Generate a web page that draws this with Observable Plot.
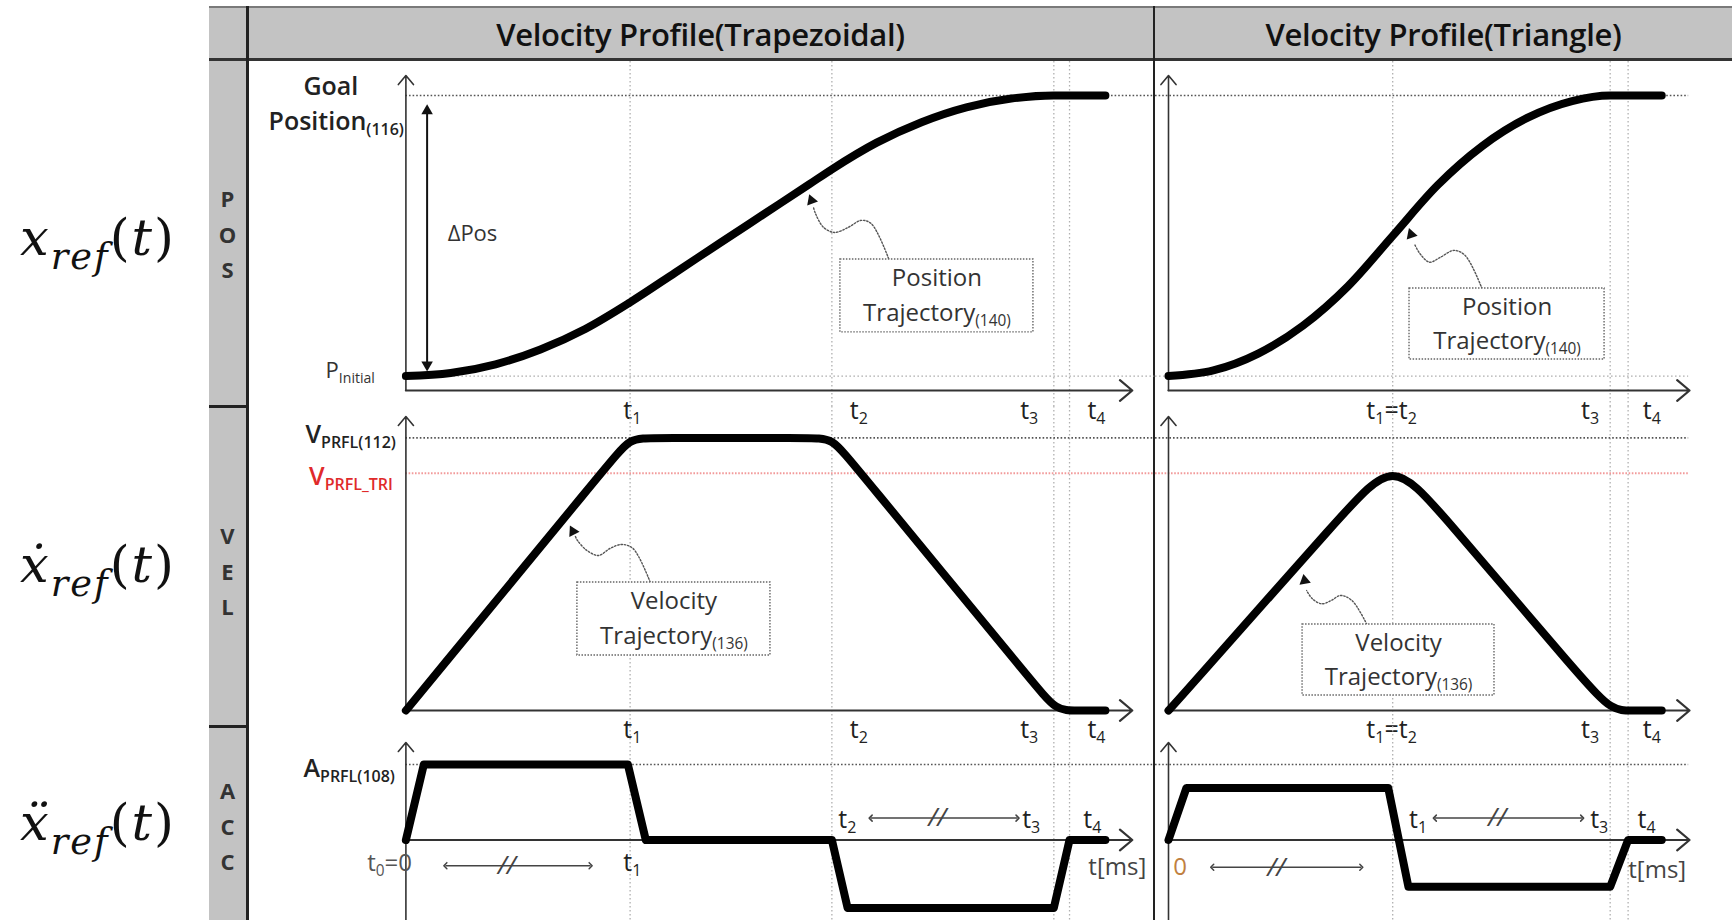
<!DOCTYPE html>
<html>
<head>
<meta charset="utf-8">
<script src="https://cdn.jsdelivr.net/npm/d3@7"></script>
<script src="https://cdn.jsdelivr.net/npm/@observablehq/plot@0.6"></script>
<style>
  body { margin: 0; background: #fff; }
  #page { position: relative; width: 1732px; height: 920px; overflow: hidden; background: #fff; font-family: "Open Sans", sans-serif; }
  .box { position: absolute; }
  .hdr { position: absolute; top: 8px; height: 51px; display: flex; align-items: center; justify-content: center;
         font-family: "Open Sans", sans-serif; font-weight: 600; font-size: 31px; color: #111; letter-spacing: -0.3px; }
  .letters { position: absolute; left: 209px; width: 37px; text-align: center; font-family: "Open Sans", sans-serif;
             font-weight: 700; font-size: 22px; line-height: 35.5px; color: #333; transform: translateY(-50%); }
  .math { position: absolute; left: 20px; transform: translateY(-50%); font-family: "DejaVu Serif", serif;
          font-style: italic; font-size: 51px; color: #111; white-space: nowrap; letter-spacing: 2px; }
  .math sub { font-size: 72%; vertical-align: -0.38em; }
  .math .up { font-style: normal; }
  svg.panel { position: absolute; overflow: visible; }
</style>
</head>
<body>
<div id="page"></div>
<script>
// ================= DATA =================
const columnTitles = ["Velocity Profile(Trapezoidal)", "Velocity Profile(Triangle)"];
const rowLetters = ["POS", "VEL", "ACC"];
const rowSymbols = ["x", "ẋ", "ẍ"];

// time marks (ms, arbitrary units)
const trapTickT = [100, 190, 289, 296];
const triTickT = [100, 197, 205];
const trapTickLabels = ["t_{1}", "t_{2}", "t_{3}", "t_{4}"];
const trapTickLabelT = [101, 202, 278, 308];
const triTickLabels = ["t_{1}=t_{2}", "t_{3}", "t_{4}"];
const triTickLabelT = [99.5, 188, 215.6];

// position (fraction of ΔPos)
const trapPosT = [0, 20, 40, 60, 80, 100, 120, 140, 160, 180, 190, 210, 230, 250, 270, 289, 312];
const trapPosV = [0, 0.011, 0.042, 0.095, 0.168, 0.263, 0.368, 0.474, 0.579, 0.684, 0.737, 0.832, 0.905, 0.958, 0.989, 1, 1];
const triPosT = [0, 20, 40, 60, 80, 100, 120, 140, 160, 180, 197, 220];
const triPosV = [0, 0.02, 0.08, 0.18, 0.32, 0.5, 0.68, 0.82, 0.92, 0.98, 1, 1];

// velocity (fraction of V_PRFL)
const trapVelT = [0, 4, 91, 100, 109, 181, 190, 199, 281, 290, 299, 312];
const trapVelV = [0, 0.04, 0.91, 1, 1, 1, 1, 0.91, 0.09, 0, 0, 0];
const triVelT = [0, 4, 80, 100, 120, 186, 198, 206, 220];
const triVelV = [0, 0.035, 0.742, 0.92, 0.742, 0.1, 0, 0, 0];
const vPrflTri = [0.87];

// acceleration (fraction of A_PRFL)
const trapAccT = [0, 8, 99, 107, 190, 197, 289, 296, 312];
const trapAccV = [0, 1, 1, 0, 0, -0.9, -0.9, 0, 0];
const triAccT = [0, 8, 98, 107, 197, 205, 220];
const triAccV = [0, 0.69, 0.69, -0.62, -0.62, 0, 0];

// callouts: box [t1, t2, v1, v2], text lines, leader path, arrow head
const trapPosBox = [193.8, 279.9, 0.156, 0.4155];
const trapPosText = ["Position", "Trajectory_{(140)}"];
const trapPosLeaderT = [215.3, 207.6, 203.1, 197.3, 191.2, 186.3, 182.7, 181.8];
const trapPosLeaderV = [0.419, 0.543, 0.555, 0.530, 0.512, 0.530, 0.579, 0.601];
const trapPosHead = [180.9, 0.626, -20];

const trapVelBox = [76.5, 162.6, 0.2018, 0.4696];
const trapVelText = ["Velocity", "Trajectory_{(136)}"];
const trapVelLeaderT = [108.96, 101.29, 96.16, 91.03, 85.9, 80.77, 76.53, 75.6];
const trapVelLeaderV = [0.4706, 0.5943, 0.6090, 0.5943, 0.5686, 0.5869, 0.6236, 0.6383];
const trapVelHead = [74.5, 0.6566, -27];

const triPosBox = [107.5, 194.5, 0.059, 0.312];
const triPosText = ["Position", "Trajectory_{(140)}"];
const triPosLeaderT = [139.9, 132.3, 127.3, 121.4, 116.4, 112.2, 109.7];
const triPosLeaderV = [0.311, 0.430, 0.448, 0.424, 0.406, 0.436, 0.471];
const triPosHead = [108.2, 0.505, -19];

const triVelBox = [59.8, 145.4, 0.055, 0.3155];
const triVelText = ["Velocity", "Trajectory_{(136)}"];
const triVelLeaderT = [88.5, 81.8, 76.7, 72.6, 68.4, 64.2, 61.6];
const triVelLeaderV = [0.3155, 0.4035, 0.4219, 0.4035, 0.3914, 0.4097, 0.4402];
const triVelHead = [60.7, 0.477, -10];

// ================= LAYOUT =================
const page = document.getElementById("page");
const K = 2.242; // px per time unit
const trapX = {left: 248, width: 906, domain: [0, 330], range: [157.4, 157.4 + 330 * K], right: 334, axisEnd: 324};
const triX = {left: 1155, width: 577, domain: [0, 240], range: [13, 13 + 240 * K], right: 232, start: -5.8, axisEnd: 232.4};
const rowY = {
  pos: {top: 61, height: 345, range: [314.6, 34]},
  vel: {top: 406, height: 320, range: [304, 31.4]},
  acc: {top: 726, height: 194, range: [113.5, 38]}
};

function addDiv(style, html = "", cls = "box") {
  const d = document.createElement("div");
  d.className = cls;
  Object.assign(d.style, style);
  d.innerHTML = html;
  page.appendChild(d);
  return d;
}

// table frame
addDiv({left: "209px", top: "8px", width: "1523px", height: "51px", background: "#c3c3c3"});
addDiv({left: "209px", top: "8px", width: "37px", height: "912px", background: "#c3c3c3"});
addDiv({left: "209px", top: "6px", width: "1523px", height: "2px", background: "#7a7a7a"});
addDiv({left: "209px", top: "58px", width: "1523px", height: "3px", background: "#333"});
addDiv({left: "246px", top: "6px", width: "2.5px", height: "914px", background: "#222"});
addDiv({left: "1153px", top: "6px", width: "2px", height: "914px", background: "#222"});
addDiv({left: "209px", top: "405px", width: "38px", height: "2.5px", background: "#222"});
addDiv({left: "209px", top: "725px", width: "38px", height: "2.5px", background: "#222"});

addDiv({left: "248px", width: "905px"}, columnTitles[0], "hdr");
addDiv({left: "1155px", width: "577px"}, columnTitles[1], "hdr");

const letterCenters = [234, 571, 826];
rowLetters.forEach((w, i) => addDiv({top: letterCenters[i] + "px"}, w.split("").join("<br>"), "letters"));

const mathCenters = [243, 570, 828];
rowSymbols.forEach((s, i) => addDiv({top: mathCenters[i] + "px"},
  `${s}<sub>ref</sub><span class="up">(</span>t<span class="up">)</span>`, "math"));

// ================= PLOT HELPERS =================
const NS = "http://www.w3.org/2000/svg";
function fixSubs(svg) {
  svg.querySelectorAll("text").forEach(el => {
    const targets = el.querySelector("tspan") ? Array.from(el.querySelectorAll("tspan")) : [el];
    targets.forEach(t => {
      const s = t.textContent;
      if (!s.includes("_{")) return;
      t.textContent = "";
      s.split(/(_\{[^}]*\})/).forEach(p => {
        if (!p) return;
        const ts = document.createElementNS(NS, "tspan");
        if (p.startsWith("_{")) {
          ts.textContent = p.slice(2, -1);
          ts.style.fontSize = "64%";
          ts.setAttribute("baseline-shift", "-0.32em");
        } else ts.textContent = p;
        t.appendChild(ts);
      });
    });
  });
}

function panel(col, row, marks) {
  const svg = Plot.plot({
    width: col.width, height: row.height,
    marginTop: 0, marginRight: 0, marginBottom: 0, marginLeft: 0,
    x: {domain: col.domain, range: col.range, axis: null},
    y: {domain: [0, 1], range: row.range, axis: null},
    style: {overflow: "visible", background: "transparent", fontFamily: "Open Sans, sans-serif"},
    marks
  });
  fixSubs(svg);
  svg.classList.add("panel");
  svg.style.left = col.left + "px";
  svg.style.top = row.top + "px";
  page.appendChild(svg);
}

const thick = {stroke: "#000", strokeWidth: 8, strokeLinecap: "round", strokeLinejoin: "round"};
const darkDots = {stroke: "#555", strokeWidth: 1.6, strokeDasharray: "1.6,2"};
const lightDots = {stroke: "#b0b0b0", strokeWidth: 1.3, strokeDasharray: "1.6,2.4"};
const axisStyle = {stroke: "#333", strokeWidth: 1.6, headLength: 11, headAngle: 80};
const tickText = {fontSize: 25, fill: "#222"};

function yAxis(y1, y2) { return Plot.arrow([0], {x1: 0, x2: 0, y1, y2, ...axisStyle}); }
function xAxis(y, end) { return Plot.arrow([0], {x1: 0, x2: end, y1: y, y2: y, ...axisStyle, strokeWidth: 2.2}); }

function callout(box, text, leaderT, leaderV, head) {
  const cx = (box[0] + box[1]) / 2, h = box[3] - box[2];
  return [
    Plot.line(leaderT, {x: leaderT, y: leaderV, curve: "catmull-rom", stroke: "#555", strokeWidth: 1.4, strokeDasharray: "1.5,1.8"}),
    Plot.dot([head], {x: d => d[0], y: d => d[1], rotate: d => d[2], symbol: "triangle2", r: 5.5, fill: "#111", stroke: "none"}),
    Plot.rect([box], {x1: d => d[0], x2: d => d[1], y1: d => d[2], y2: d => d[3], fill: "white", stroke: "#666", strokeWidth: 1.4, strokeDasharray: "1.5,1.5"}),
    Plot.text([text[0]], {x: cx, y: box[3] - h * 0.26, text: d => d, fontSize: 24, fill: "#333"}),
    Plot.text([text[1]], {x: cx, y: box[2] + h * 0.26, text: d => d, fontSize: 24, fill: "#333"})
  ];
}

function doubleArrow(t1, t2, v, mid, fill = "#444") {
  return [
    Plot.link([0], {x1: t1, x2: t2, y1: v, y2: v, stroke: "#444", strokeWidth: 1.5, markerStart: "arrow-reverse", markerEnd: "arrow"}),
    Plot.text(["//"], {x: mid, y: v, text: d => d, fontSize: 26, fill, fontStyle: "italic"})
  ];
}

// ================= TRAPEZOIDAL COLUMN =================
panel(trapX, rowY.pos, [
  Plot.ruleX(trapTickT, lightDots),
  Plot.ruleY([0], {x1: 0, x2: trapX.right, ...lightDots}),
  Plot.ruleY([1], {x1: 0, x2: trapX.right, ...darkDots}),
  yAxis(-0.0513, 1.071),
  xAxis(-0.0513, trapX.axisEnd),
  Plot.ruleX([9.46], {y1: 0.03, y2: 0.95, stroke: "#111", strokeWidth: 2}),
  Plot.dot([[9.46, 0.945, 0], [9.46, 0.04, 180]], {x: d => d[0], y: d => d[1], rotate: d => d[2], symbol: "triangle2", r: 5.5, fill: "#111", stroke: "none"}),
  Plot.text(["ΔPos"], {x: 29.7, y: 0.508, text: d => d, fontSize: 22, fill: "#333"}),
  Plot.text(["Goal"], {x: 0, dx: -75, y: 1.032, text: d => d, fontSize: 25, fontWeight: 600, fill: "#222"}),
  Plot.text(["Position_{(116)}"], {x: 0, dx: -2, y: 0.905, text: d => d, textAnchor: "end", fontSize: 25, fontWeight: 600, fill: "#222"}),
  Plot.text(["P_{Initial}"], {x: 0, dx: -31, y: 0.018, text: d => d, textAnchor: "end", fontSize: 22, fill: "#333"}),
  ...callout(trapPosBox, trapPosText, trapPosLeaderT, trapPosLeaderV, trapPosHead),
  Plot.line(trapPosT, {x: trapPosT, y: trapPosV, curve: "monotone-x", ...thick}),
  Plot.text(trapTickLabels, {x: trapTickLabelT, y: -0.126, text: d => d, ...tickText})
]);

panel(trapX, rowY.vel, [
  Plot.ruleX(trapTickT, lightDots),
  Plot.ruleY([1], {x1: 0, x2: trapX.right, ...darkDots}),
  Plot.ruleY(vPrflTri, {x1: 0, x2: trapX.right, stroke: "#f29a9a", strokeWidth: 2, strokeDasharray: "1.6,1.6"}),
  yAxis(0, 1.0785),
  xAxis(0, trapX.axisEnd),
  Plot.text(["V_{PRFL(112)}"], {x: 0, dx: -10, y: 1.012, text: d => d, textAnchor: "end", fontSize: 25, fontWeight: 600, fill: "#222"}),
  Plot.text(["V_{PRFL_TRI}"], {x: 0, dx: -13, y: 0.858, text: d => d, textAnchor: "end", fontSize: 25, fontWeight: 600, fill: "#e02a2a"}),
  ...callout(trapVelBox, trapVelText, trapVelLeaderT, trapVelLeaderV, trapVelHead),
  Plot.line(trapVelT, {x: trapVelT, y: trapVelV, curve: "basis", ...thick}),
  Plot.text(trapTickLabels, {x: trapTickLabelT, y: -0.07, text: d => d, ...tickText})
]);

panel(trapX, rowY.acc, [
  Plot.ruleX(trapTickT, lightDots),
  Plot.ruleY([1], {x1: 0, x2: trapX.right, ...darkDots}),
  Plot.ruleX([0], {y1: -1.07, y2: 0, stroke: "#333", strokeWidth: 1.6}),
  yAxis(0, 1.291),
  xAxis(0, trapX.axisEnd),
  Plot.text(["A_{PRFL(108)}"], {x: 0, dx: -11, y: 0.947, text: d => d, textAnchor: "end", fontSize: 25, fontWeight: 600, fill: "#222"}),
  Plot.text(["t_{0}=0"], {x: -7.3, y: -0.31, text: d => d, fontSize: 24, fill: "#555"}),
  Plot.text(["t_{1}"], {x: 101, y: -0.31, text: d => d, ...tickText}),
  ...doubleArrow(17.6, 82.4, -0.34, 45),
  Plot.text(["t_{2}", "t_{3}", "t_{4}"], {x: [196.9, 278.9, 306.2], y: 0.26, text: d => d, ...tickText}),
  ...doubleArrow(207.3, 272.8, 0.29, 237),
  Plot.text(["t[ms]"], {x: 317.3, y: -0.36, text: d => d, fontSize: 24, fill: "#444"}),
  Plot.line(trapAccT, {x: trapAccT, y: trapAccV, ...thick})
]);

// ================= TRIANGLE COLUMN =================
panel(triX, rowY.pos, [
  Plot.ruleX(triTickT, lightDots),
  Plot.ruleY([0], {x1: triX.start, x2: triX.right, ...lightDots}),
  Plot.ruleY([1], {x1: triX.start, x2: triX.right, ...darkDots}),
  yAxis(-0.0513, 1.071),
  xAxis(-0.0513, triX.axisEnd),
  ...callout(triPosBox, triPosText, triPosLeaderT, triPosLeaderV, triPosHead),
  Plot.line(triPosT, {x: triPosT, y: triPosV, curve: "monotone-x", ...thick}),
  Plot.text(triTickLabels, {x: triTickLabelT, y: -0.126, text: d => d, ...tickText})
]);

panel(triX, rowY.vel, [
  Plot.ruleX(triTickT, lightDots),
  Plot.ruleY([1], {x1: triX.start, x2: triX.right, ...darkDots}),
  Plot.ruleY(vPrflTri, {x1: triX.start, x2: triX.right, stroke: "#f29a9a", strokeWidth: 2, strokeDasharray: "1.6,1.6"}),
  yAxis(0, 1.0785),
  xAxis(0, triX.axisEnd),
  ...callout(triVelBox, triVelText, triVelLeaderT, triVelLeaderV, triVelHead),
  Plot.line(triVelT, {x: triVelT, y: triVelV, curve: "basis", ...thick}),
  Plot.text(triTickLabels, {x: triTickLabelT, y: -0.07, text: d => d, ...tickText})
]);

panel(triX, rowY.acc, [
  Plot.ruleX(triTickT, lightDots),
  Plot.ruleY([1], {x1: triX.start, x2: triX.right, ...darkDots}),
  Plot.ruleX([0], {y1: -1.07, y2: 0, stroke: "#333", strokeWidth: 1.6}),
  yAxis(0, 1.291),
  xAxis(0, triX.axisEnd),
  Plot.text(["0"], {x: 5.2, y: -0.36, text: d => d, fontSize: 24, fill: "#c08040"}),
  ...doubleArrow(19.5, 86, -0.36, 48.1),
  Plot.text(["t_{1}", "t_{3}", "t_{4}"], {x: [111.3, 192.1, 213.2], y: 0.26, text: d => d, ...tickText}),
  ...doubleArrow(118.8, 184.5, 0.29, 146.6),
  Plot.text(["t[ms]"], {x: 218, y: -0.40, text: d => d, fontSize: 24, fill: "#444"}),
  Plot.line(triAccT, {x: triAccT, y: triAccV, ...thick})
]);
</script>
</body>
</html>
